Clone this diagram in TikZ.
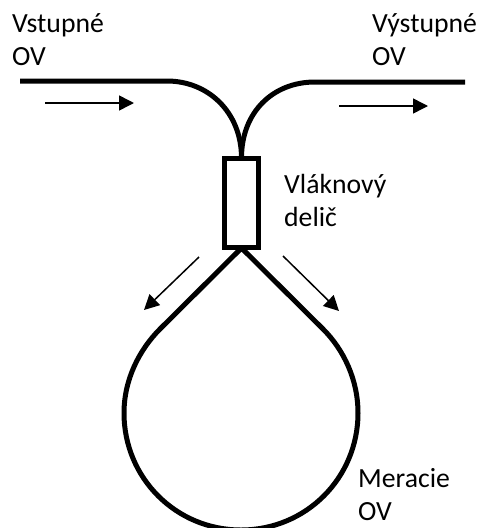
\documentclass[tikz,border=0pt]{standalone}
\usepackage{fontspec}
\setmainfont{Carlito}
\usetikzlibrary{arrows.meta}
\tikzset{
  fib/.style={line width=5pt,black},
  flow/.style={line width=1.5pt,-{Triangle[length=15pt,width=15pt]}},
  lab/.style={font=\fontsize{27.7}{33}\selectfont,align=left,anchor=north west,inner sep=0pt},
  coup/.style={draw,line width=5pt,fill=white,minimum width=34pt,minimum height=89pt,inner sep=0pt,outer sep=0pt}
}
\begin{document}
\begin{tikzpicture}[x=1pt,y=-1pt]
\useasboundingbox (0,0) rectangle (478,528);
\coordinate (in) at (20,81);
\coordinate (out) at (465,82);
\coordinate (mid) at (241.5,158);
\coordinate (tip) at (241.5,248);
\draw[fib] (in) -- (167,81) .. controls (208,81) and (241.5,112) .. (mid);
\draw[fib] (out) -- (315,82) .. controls (273,82) and (241.5,112) .. (mid);
\draw[fib,line join=round] (tip) -- (160,329) .. controls (139,350) and (124,380) .. (124,413)
  .. controls (124,478) and (176,530) .. (241,530)
  .. controls (306,530) and (358,478) .. (358,413)
  .. controls (358,380) and (344,350) .. (323,329) -- (tip);
\node[coup] (d) at (241.5,203) {};
\coordinate (a1s) at (45,103); \coordinate (a1e) at (134,103);
\coordinate (a2s) at (339,106); \coordinate (a2e) at (428,106);
\coordinate (a3s) at (199,257); \coordinate (a3e) at (144,310);
\coordinate (a4s) at (283,256); \coordinate (a4e) at (339,311);
\draw[flow] (a1s) -- (a1e);
\draw[flow] (a2s) -- (a2e);
\draw[flow] (a3s) -- (a3e);
\draw[flow] (a4s) -- (a4e);
\node[lab] (t1) at (12,13) {Vstupné\\OV};
\node[lab] (t2) at (372,13) {Výstupné\\OV};
\node[lab] (t3) at (284,174) {Vláknový\\delič};
\node[lab] (t4) at (358,468) {Meracie\\OV};
\end{tikzpicture}
\end{document}
